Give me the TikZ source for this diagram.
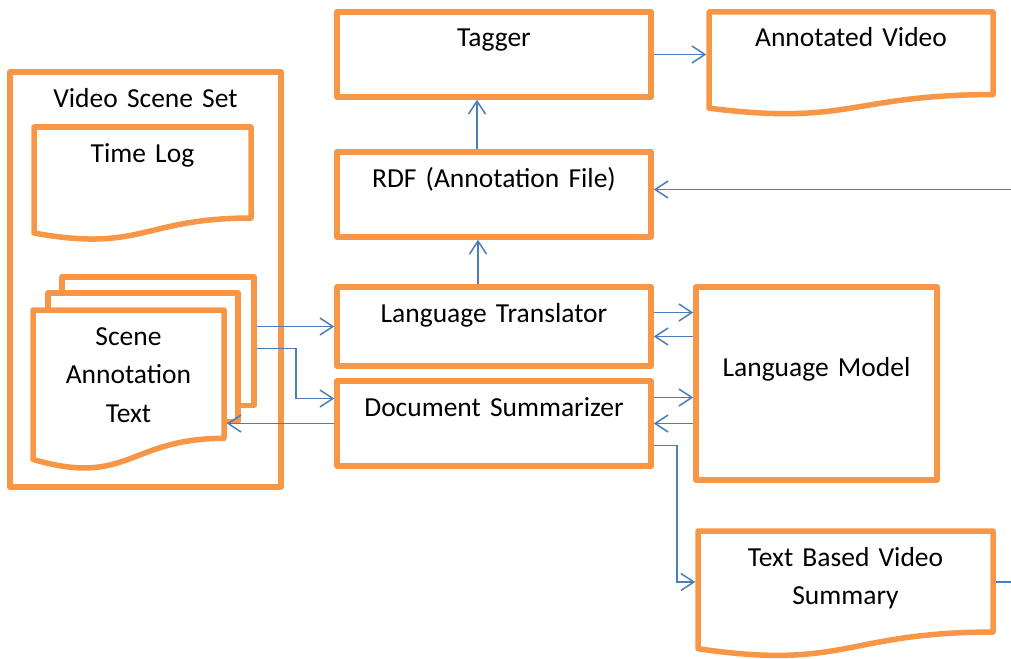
\documentclass[tikz,border=0pt]{standalone}
\usepackage{fontspec}
\setmainfont{Carlito}
\usetikzlibrary{
    arrows.meta,
    positioning,
    calc
}
\definecolor{boxorange}{HTML}{F79646}
\definecolor{arrowblue}{HTML}{4A7EBB}

\begin{document}
\begin{tikzpicture}[
            x=1pt, y=-1pt,
            font=\fontsize{27.5}{38.5}\selectfont,
            block/.style={draw=boxorange, line width=5.5pt, line join=round, inner sep=0pt, outer sep=0pt, align=center, text width=314pt, text height=35pt, text depth=50pt},
            doc/.style={inner sep=0pt, outer sep=0pt, align=center, text height=35pt,
                append after command={\pgfextra{
                    \draw[line width=5.5pt, boxorange, line join=round]
                        (\tikzlastnode.north west) -- (\tikzlastnode.north east)
                        -- ($(\tikzlastnode.north east)!0.802!(\tikzlastnode.south east)$)
                        .. controls ($(\tikzlastnode.north)!0.802!(\tikzlastnode.south)$)
                        and ($(\tikzlastnode.north)!1.107!(\tikzlastnode.south)$)
                        .. ($(\tikzlastnode.north west)!0.934!(\tikzlastnode.south west)$)
                        -- cycle;
                }}},
            multidoc/.style={doc,
                append after command={\pgfextra{
                    \draw[line width=5.5pt, boxorange, line join=round]
                        ($(\tikzlastnode.north west)+(15pt,0)$) -- ++(0,17pt)
                        -- ($(\tikzlastnode.north east)+(14pt,17pt)$)
                        -- ($(\tikzlastnode.north east)!0.802!(\tikzlastnode.south east)+(14pt,17pt)$)
                        -- ($(\tikzlastnode.north east)!0.802!(\tikzlastnode.south east)+(0,17pt)$);
                    \draw[line width=5.5pt, boxorange, line join=round]
                        ($(\tikzlastnode.north west)+(29pt,17pt)$) -- ++(0,16pt)
                        -- ($(\tikzlastnode.north east)+(30pt,33pt)$)
                        -- ($(\tikzlastnode.north east)!0.802!(\tikzlastnode.south east)+(30pt,33pt)$)
                        -- ($(\tikzlastnode.north east)!0.802!(\tikzlastnode.south east)+(14pt,33pt)$);
                }}},
            arr/.style={-{Straight Barb[length=13pt, width=17pt]}, line width=1.5pt, arrowblue, shorten <=2.75pt, shorten >=2.75pt},
        ]
            \useasboundingbox (0,0) rectangle (1011,658);
            \clip (0,0) rectangle (1011,658);

            % ====== Processing chain ======
            \node[block] (tagger) at (494,54.5) {Tagger};
            \node[block, below=55pt of tagger] (rdf) {RDF (Annotation File)};
            \node[block, below=50pt of rdf, text depth=44pt] (lt) {Language Translator};
            \node[block, below=15pt of lt] (ds) {Document Summarizer};
            \node[
                block,
                right=45pt of lt.north east,
                anchor=north west,
                text width=241pt,
                text height=89pt,
                text depth=104pt
            ] (lm) {Language Model};

            % ====== Outputs ======
            \node[doc, right=58pt of tagger.north east, anchor=north west, text width=284pt, text depth=68pt]
                (video) {Annotated Video};
            \node[doc, below=51pt of lm.south west, anchor=north west, xshift=2pt, text width=295pt, text depth=91pt]
                (summary) {Text Based Video\\Summary};

            % ====== Input set ======
            \node[block, anchor=north west, text width=271pt, text depth=380pt] (sceneset) at (10,72) {Video Scene Set};
            \node[doc, below right=55pt and 24pt of sceneset.north west, anchor=north west, text width=217pt, text depth=78.5pt]
                (timelog) {Time Log};
            \node[multidoc, below=69.5pt of timelog.south west, anchor=north west, xshift=-1pt, text width=191pt, text depth=125pt]
                (scene) {Scene\\Annotation\\Text};

            % ====== Arrows ======
            \coordinate (sceneout) at ([xshift=30pt]scene.east |- lt.west);

            \draw[arr] (tagger.east) -- (tagger.east -| video.west);
            \draw[arr] ([xshift=-17pt]rdf.north) -- ([xshift=-17pt]rdf.north |- tagger.south);
            \draw[arr] ([xshift=-16pt]lt.north) -- ([xshift=-16pt]lt.north |- rdf.south);

            \draw[arr] (sceneout) -- (lt.west);
            \draw[arr] ([yshift=-22pt]sceneout) -- ++(42pt,0) |- ([yshift=25pt]ds.west);
            \draw[arr] (ds.west) -- (ds.west -| scene.east);

            \draw[arr] ([yshift=14pt]lt.east) -- ([yshift=14pt]lt.east -| lm.west);
            \draw[arr] ([yshift=-10pt]lt.east -| lm.west) -- ([yshift=-10pt]lt.east);
            \draw[arr] ([yshift=26pt]ds.east) -- ([yshift=26pt]ds.east -| lm.west);
            \draw[arr] (ds.east -| lm.west) -- (ds.east);

            \draw[arr] ([yshift=-22pt]ds.east) -- ++(26pt,0) |- ([yshift=12pt]summary.west);
            \draw[arr] ([yshift=12pt]summary.east) -- ++(40pt,0) |- ([yshift=5pt]rdf.east);
        \end{tikzpicture}
\end{document}
